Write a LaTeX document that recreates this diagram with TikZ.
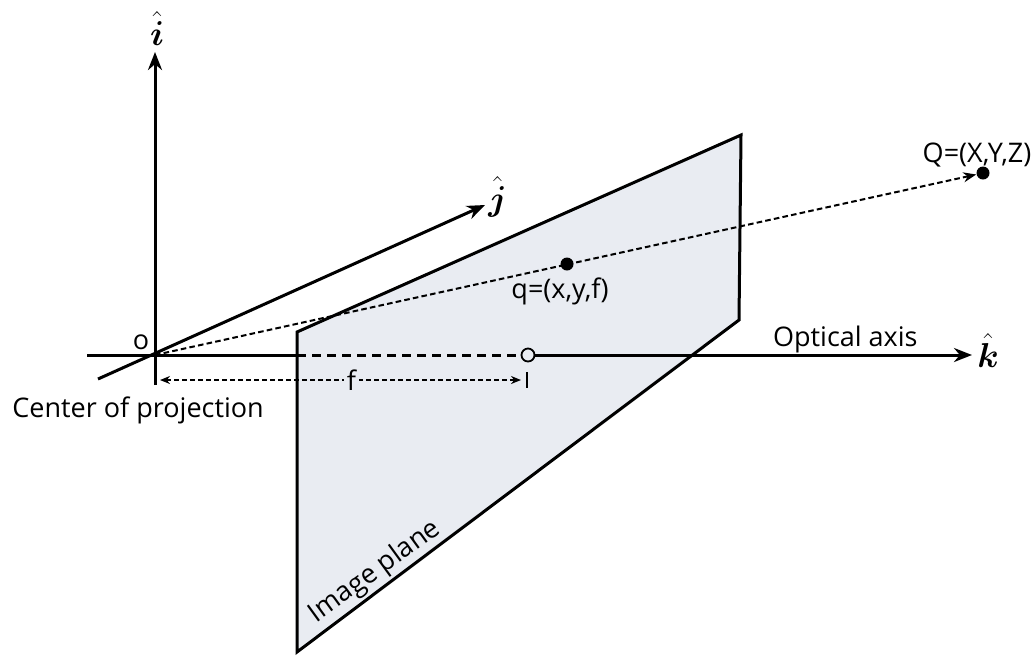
\documentclass[tikz,border=0pt]{standalone}
\usepackage{fontspec}
\setmainfont{Open Sans}
\usepackage{bm}
\usetikzlibrary{arrows.meta}
\definecolor{planefill}{RGB}{233,236,242}

\begin{document}
\begin{tikzpicture}[
    x=0.5pt, y=-0.5pt,
    label/.style={font=\fontsize{13.5}{16}\selectfont, inner sep=0pt},
    unit/.style={font=\LARGE, inner sep=0pt},
    axis/.style={line width=1.5pt, -{Stealth[length=9pt,width=7pt]}},
    hidden/.style={line width=1.5pt, dash pattern=on 4.5pt off 3pt},
    ray/.style={line width=1pt, dash pattern=on 2.8pt off 1.6pt, -{Stealth[length=6.5pt,width=5pt]}},
    dim/.style={line width=1pt, dash pattern=on 2.5pt off 1.5pt, {Stealth[length=5pt,width=4pt]}-{Stealth[length=5pt,width=4pt]}},
    point/.style={circle, fill=black, inner sep=0pt, minimum size=6.5pt},
    ring/.style={circle, draw=black, line width=0.9pt, fill=planefill, inner sep=0pt, minimum size=6.5pt}
]
\useasboundingbox (0,0) rectangle (1032,655);

% Image plane
\coordinate (pTL) at (297,332);
\coordinate (pTR) at (741,135);
\coordinate (pBR) at (739,320);
\coordinate (pBL) at (297,652);
\draw[line width=1.5pt, fill=planefill, line join=miter] (pTL) -- (pTR) -- (pBR) -- (pBL) -- cycle;
\node[label, rotate=36] (plane) at (375,572) {Image plane};

% Axes
\coordinate (O) at (155,355);
\coordinate (iFoot) at (155,385);
\coordinate (iTip) at (155,52);
\coordinate (jFoot) at (98,379);
\coordinate (jTip) at (485,205);
\coordinate (kFoot) at (87,355);
\coordinate (kIn) at (297,355);
\coordinate (kTip) at (972,355);
\node[ring] (pp) at (528,355) {};

\draw[axis] (iFoot) -- (iTip);
\draw[axis] (jFoot) -- (jTip);
\draw[line width=1.5pt] (kFoot) -- (kIn);
\draw[hidden] (kIn) -- (pp.west);
\draw[axis] (pp.east) -- (kTip);

\node[unit, anchor=base] (ihat) at (157,45) {$\hat{\bm{i}}$};
\node[unit, anchor=base west] (jhat) at (488,210) {$\hat{\bm{j}}$};
\node[unit, anchor=base west] (khat) at (977,367) {$\hat{\bm{k}}$};

% Points and ray
\node[point] (q) at (567,264) {};
\node[point] (Q) at (983,173) {};
\draw[ray] (O) -- (Q);
\node[label, anchor=base] (qlab) at (560,298) {q=(x,y,f)};
\node[label, anchor=base] (Qlab) at (977,162) {Q=(X,Y,Z)};

% Focal length
\coordinate (fL) at (160,380);
\coordinate (fR) at (521,380);
\coordinate (tA) at (527,372);
\coordinate (tB) at (527,388);
\draw[dim] (fL) -- node[label, pos=0.53, fill=planefill, inner sep=1.5pt] (flab) {f} (fR);
\draw[line width=0.9pt] (tA) -- (tB);

% Labels
\node[label] (olab) at (141,342) {o};
\node[label, anchor=base west] (cop) at (12,417) {Center of projection};
\node[label, anchor=base east] (oax) at (918,346) {Optical axis};

\end{tikzpicture}
\end{document}
